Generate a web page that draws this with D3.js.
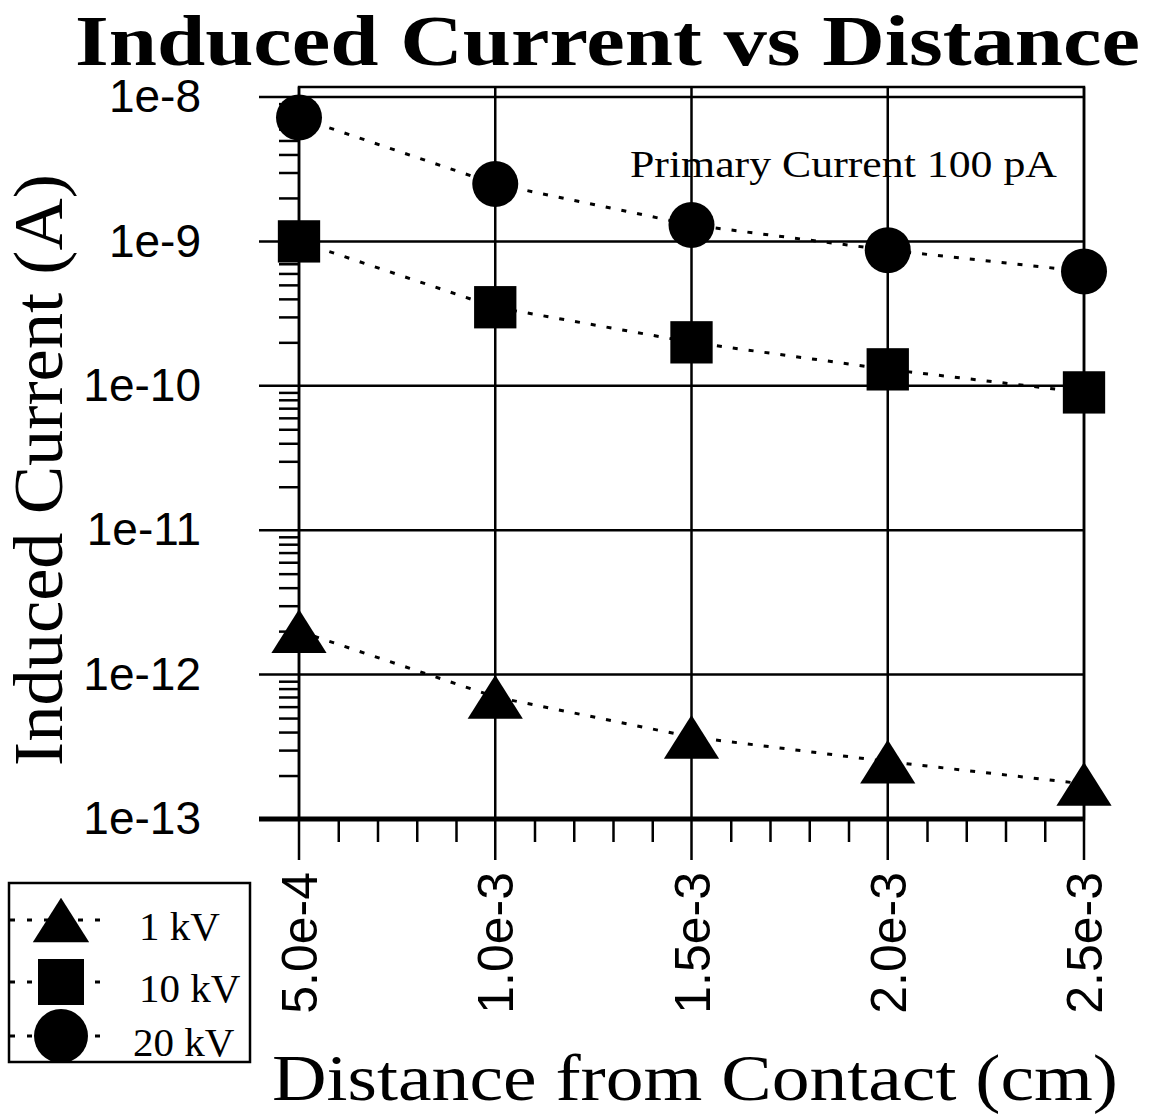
<!DOCTYPE html>
<html>
<head>
<meta charset="utf-8">
<script src="https://cdn.jsdelivr.net/npm/d3@7"></script>
<style>
  body { margin: 0; background: #fff; }
  svg { display: block; }
</style>
</head>
<body>
<div id="chart"></div>
<script>
// data
var distances = [5e-4, 1e-3, 1.5e-3, 2e-3, 2.5e-3];
var current1kV = [2.0e-12, 7.0e-13, 3.7e-13, 2.5e-13, 1.75e-13];
var current10kV = [1.0e-9, 3.5e-10, 2.0e-10, 1.3e-10, 9.0e-11];
var current20kV = [7.2e-9, 2.5e-9, 1.3e-9, 8.7e-10, 6.2e-10];
var yDecades = [1e-13, 1e-12, 1e-11, 1e-10, 1e-9, 1e-8];
var xMajor = [5e-4, 1e-3, 1.5e-3, 2e-3, 2.5e-3];
var seriesNames = ["1 kV", "10 kV", "20 kV"];

var W = 1153, H = 1120;
var svg = d3.select("#chart").append("svg")
    .attr("width", W).attr("height", H);

var x = d3.scaleLinear().domain([5e-4, 2.5e-3]).range([299, 1084]);
var y = d3.scaleLog().domain([1e-13, 1e-8]).range([819, 97]);
var topY = 87;

// title
svg.append("text")
    .attr("x", 75).attr("y", 65)
    .attr("textLength", 1065).attr("lengthAdjust", "spacingAndGlyphs")
    .style("font-family", "'Liberation Serif', 'Times New Roman', serif")
    .style("font-weight", "bold")
    .style("font-size", "72px")
    .text("Induced Current vs Distance");

// frame
svg.append("rect")
    .attr("x", x(5e-4)).attr("y", topY)
    .attr("width", x(2.5e-3) - x(5e-4)).attr("height", y(1e-13) - topY)
    .attr("fill", "none").attr("stroke", "#000").attr("stroke-width", 2.5);

// horizontal grid at decades
svg.append("g").selectAll("line")
    .data(yDecades)
    .enter().append("line")
    .attr("x1", x(5e-4) - 40).attr("x2", x(2.5e-3))
    .attr("y1", function(d) { return y(d); })
    .attr("y2", function(d) { return y(d); })
    .attr("stroke", "#000")
    .attr("stroke-width", function(d) { return d === 1e-13 ? 5 : 2.5; });

// vertical grid at major x ticks (extends down as tick)
svg.append("g").selectAll("line")
    .data(xMajor)
    .enter().append("line")
    .attr("x1", function(d) { return x(d); })
    .attr("x2", function(d) { return x(d); })
    .attr("y1", topY).attr("y2", y(1e-13) + 41)
    .attr("stroke", "#000").attr("stroke-width", 2.5);

// y minor ticks
var yMinor = [];
yDecades.slice(0, -1).forEach(function(d) {
  for (var k = 2; k <= 9; k++) yMinor.push(d * k);
});
svg.append("g")
    .attr("transform", "translate(" + x(5e-4) + ",0)")
    .call(d3.axisLeft(y).tickValues(yMinor).tickSize(20).tickFormat(""))
    .call(function(g) {
      g.select(".domain").remove();
      g.selectAll("line").attr("stroke-width", 2.5);
    });

// y major labels
svg.append("g")
    .attr("transform", "translate(" + x(5e-4) + ",0)")
    .call(d3.axisLeft(y).tickValues(yDecades).tickSize(0).tickPadding(98)
      .tickFormat(function(d) { return "1e" + Math.round(Math.log10(d)); }))
    .call(function(g) {
      g.select(".domain").remove();
      g.selectAll("text")
        .style("font-family", "'Liberation Sans', Arial, sans-serif")
        .style("font-size", "46px")
        .attr("fill", "#000");
    });

// x minor ticks
var xMinor = d3.range(6, 25).map(function(i) { return i * 1e-4; })
    .filter(function(d) { return Math.round(d * 1e4) % 5 !== 0; });
svg.append("g")
    .attr("transform", "translate(0," + y(1e-13) + ")")
    .call(d3.axisBottom(x).tickValues(xMinor).tickSize(23).tickFormat(""))
    .call(function(g) {
      g.select(".domain").remove();
      g.selectAll("line").attr("stroke-width", 2.5);
    });

// x labels, rotated
svg.append("g").selectAll("text")
    .data(xMajor)
    .enter().append("text")
    .attr("transform", function(d) { return "translate(" + x(d) + ",872) rotate(-90)"; })
    .attr("text-anchor", "end")
    .attr("dy", "0.36em")
    .style("font-family", "'Liberation Sans', Arial, sans-serif")
    .style("font-size", "50px")
    .text(function(d) { return d.toExponential(1); });

// axis titles
svg.append("text")
    .attr("transform", "translate(62,470) rotate(-90)")
    .attr("text-anchor", "middle")
    .attr("textLength", 592).attr("lengthAdjust", "spacingAndGlyphs")
    .style("font-family", "'Liberation Serif', 'Times New Roman', serif")
    .style("font-size", "70px")
    .text("Induced Current (A)");

svg.append("text")
    .attr("x", 272).attr("y", 1100)
    .attr("textLength", 846).attr("lengthAdjust", "spacingAndGlyphs")
    .style("font-family", "'Liberation Serif', 'Times New Roman', serif")
    .style("font-size", "66px")
    .text("Distance from Contact (cm)");

// annotation
svg.append("text")
    .attr("x", 630).attr("y", 177)
    .attr("textLength", 427).attr("lengthAdjust", "spacingAndGlyphs")
    .style("font-family", "'Liberation Serif', 'Times New Roman', serif")
    .style("font-size", "38px")
    .text("Primary Current 100 pA");

// series
var series = [
  {name: seriesNames[0], values: current1kV, shape: "triangle"},
  {name: seriesNames[1], values: current10kV, shape: "square"},
  {name: seriesNames[2], values: current20kV, shape: "circle"}
];

var line = d3.line()
    .x(function(d) { return x(d[0]); })
    .y(function(d) { return y(d[1]); });

function drawSymbol(g, shape, cx, cy, s) {
  if (shape === "circle") {
    g.append("circle").attr("cx", cx).attr("cy", cy).attr("r", s * 0.5).attr("fill", "#000");
  } else if (shape === "square") {
    g.append("rect").attr("x", cx - s * 0.46).attr("y", cy - s * 0.46)
      .attr("width", s * 0.92).attr("height", s * 0.92).attr("fill", "#000");
  } else {
    var w = s * 1.2, h = s * 0.95;
    g.append("path")
      .attr("d", "M" + cx + "," + (cy - h / 2) + "L" + (cx + w / 2) + "," + (cy + h / 2) +
        "L" + (cx - w / 2) + "," + (cy + h / 2) + "Z")
      .attr("fill", "#000");
  }
}

series.forEach(function(s) {
  var pts = distances.map(function(d, i) { return [d, s.values[i]]; });
  svg.append("path")
    .datum(pts)
    .attr("d", line)
    .attr("fill", "none")
    .attr("stroke", "#000")
    .attr("stroke-width", 3)
    .attr("stroke-dasharray", "5,11");
  var g = svg.append("g");
  pts.forEach(function(p) {
    drawSymbol(g, s.shape, x(p[0]), y(p[1]), 46);
  });
});

// legend
var legend = svg.append("g");
legend.append("rect")
    .attr("x", 9).attr("y", 883).attr("width", 241).attr("height", 179)
    .attr("fill", "#fff").attr("stroke", "#000").attr("stroke-width", 2.5);
var legendY = [920, 982, 1036];
series.forEach(function(s, i) {
  legend.append("line")
    .attr("x1", 10).attr("x2", 100)
    .attr("y1", legendY[i]).attr("y2", legendY[i])
    .attr("stroke", "#000").attr("stroke-width", 3)
    .attr("stroke-dasharray", "5,12");
  drawSymbol(legend, s.shape, 61, legendY[i], i === 0 ? 47 : (i === 1 ? 50 : 54));
  legend.append("text")
    .attr("x", i === 2 ? 133 : 139).attr("y", legendY[i] + 20)
    .style("font-family", "'Liberation Serif', 'Times New Roman', serif")
    .style("font-size", "41px")
    .text(s.name);
});
</script>
</body>
</html>
